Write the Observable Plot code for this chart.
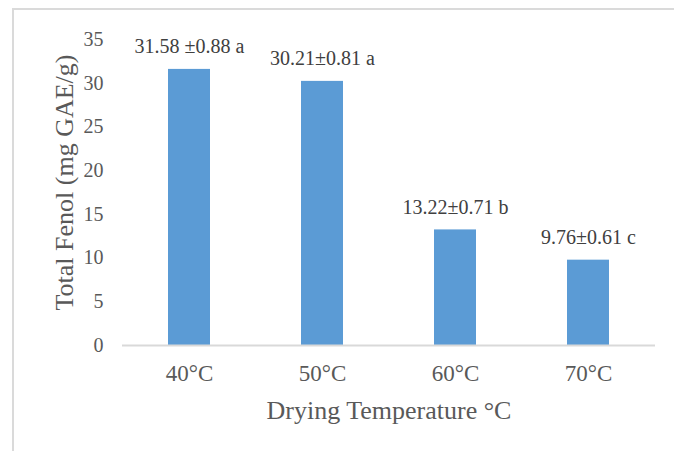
<!DOCTYPE html>
<html>
<head>
<meta charset="utf-8">
<script src="https://cdn.jsdelivr.net/npm/d3@7"></script>
<script src="https://cdn.jsdelivr.net/npm/@observablehq/plot@0.6"></script>
<style>
  html, body { margin: 0; padding: 0; background: #ffffff; }
  #wrap { position: relative; width: 674px; height: 451px; overflow: hidden; }
  #frame { position: absolute; left: 12px; top: 8px; width: 700px; height: 500px;
           border-top: 2px solid #dadada; border-left: 2px solid #dadada; pointer-events: none; }
</style>
</head>
<body>
<div id="wrap"><div id="frame"></div></div>
<script>
const temps = ["40°C", "50°C", "60°C", "70°C"];
const means = [31.58, 30.21, 13.22, 9.76];
const sds = [0.88, 0.81, 0.71, 0.61];
const groups = ["a", "a", "b", "c"];
const valueLabels = ["31.58 ±0.88 a", "30.21±0.81 a", "13.22±0.71 b", "9.76±0.61 c"];
const yTicks = [0, 5, 10, 15, 20, 25, 30, 35];
const xTitle = "Drying Temperature °C";
const yTitle = "Total Fenol (mg GAE/g)";

const rows = temps.map((t, i) => ({temp: t, mean: means[i], sd: sds[i], group: groups[i], label: valueLabels[i]}));

const serif = "'Liberation Serif', 'Times New Roman', Times, serif";
const grey = "#595959";

const chart = Plot.plot({
  width: 674,
  height: 451,
  marginLeft: 122,
  marginRight: 19,
  marginTop: 39,
  marginBottom: 106,
  style: {fontFamily: serif, background: "transparent", overflow: "visible"},
  x: {type: "band", domain: temps, paddingInner: 0.685, paddingOuter: 0.3425},
  y: {domain: [0, 35]},
  marks: [
    Plot.barY(rows, {x: "temp", y: "mean", fill: "#5b9bd5"}),
    Plot.ruleY([0], {stroke: "#d9d9d9", strokeWidth: 2}),
    Plot.axisY({ticks: yTicks, tickSize: 0, tickPadding: 19, fontSize: 20, color: grey, label: null}),
    Plot.axisX({tickSize: 0, tickPadding: 19, fontSize: 23, color: grey, label: null}),
    Plot.text(rows, {x: "temp", y: "mean", text: "label", dy: -16, lineAnchor: "bottom",
                     fontSize: 20, fill: "#404040"}),
    Plot.text([xTitle], {frameAnchor: "bottom", dy: 73, lineAnchor: "bottom", fontSize: 26, fill: grey}),
    Plot.text([yTitle], {frameAnchor: "left", rotate: -90, dx: -50, dy: -10, lineAnchor: "bottom",
                         textAnchor: "middle", fontSize: 26, fill: grey})
  ]
});
chart.style.position = "absolute";
chart.style.left = "0px";
chart.style.top = "0px";
document.getElementById("wrap").appendChild(chart);
</script>
</body>
</html>
